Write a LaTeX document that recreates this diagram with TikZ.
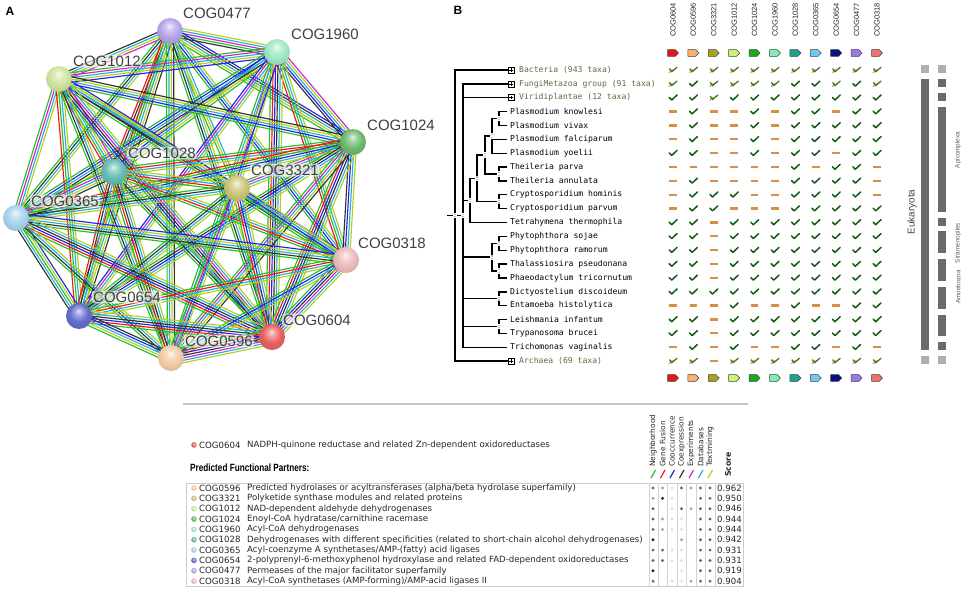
\documentclass[tikz,border=0pt]{standalone}
\usepackage{fontspec}
\setmainfont{Liberation Sans}
\newfontfamily\dvs{DejaVu Sans}
\newfontfamily\dvm{DejaVu Sans Mono}
\usetikzlibrary{calc}
\pgfdeclarelayer{background}
\pgfsetlayers{background,main}
\makeatletter
\pgfdeclareradialshading[tikz@ball]{sphere}{\pgfqpoint{-1bp}{10bp}}{color(0bp)=(tikz@ball!18!white); color(7bp)=(tikz@ball!60!white); color(18bp)=(tikz@ball); color(32bp)=(tikz@ball!88!black); color(45bp)=(tikz@ball!72!black); color(50bp)=(tikz@ball!62!black)}
\makeatother
% evidence colours
\definecolor{eN}{RGB}{40,190,40}
\definecolor{eF}{RGB}{235,25,25}
\definecolor{eC}{RGB}{35,35,235}
\definecolor{eX}{RGB}{50,50,50}
\definecolor{eE}{RGB}{205,35,205}
\definecolor{eD}{RGB}{40,175,215}
\definecolor{eT}{RGB}{185,205,30}
% sphere colours
\definecolor{c0477}{RGB}{180,165,232}
\definecolor{c1960}{RGB}{160,232,198}
\definecolor{c1012}{RGB}{205,228,158}
\definecolor{c1024}{RGB}{110,186,110}
\definecolor{c1028}{RGB}{100,188,178}
\definecolor{c3321}{RGB}{205,196,120}
\definecolor{c0365}{RGB}{168,210,238}
\definecolor{c0318}{RGB}{238,186,186}
\definecolor{c0654}{RGB}{98,108,205}
\definecolor{c0604}{RGB}{232,96,96}
\definecolor{c0596}{RGB}{242,204,166}
% arrow colours
\definecolor{a0604}{RGB}{232,20,28}
\definecolor{a0596}{RGB}{246,180,110}
\definecolor{a3321}{RGB}{168,160,30}
\definecolor{a1012}{RGB}{204,240,122}
\definecolor{a1024}{RGB}{31,168,31}
\definecolor{a1960}{RGB}{127,240,176}
\definecolor{a1028}{RGB}{31,160,140}
\definecolor{a0365}{RGB}{116,198,245}
\definecolor{a0654}{RGB}{10,16,128}
\definecolor{a0477}{RGB}{154,120,232}
\definecolor{a0318}{RGB}{240,112,112}
\definecolor{chkgreen}{RGB}{20,90,20}
\definecolor{pgreen}{RGB}{60,120,40}
\definecolor{ptan}{RGB}{215,180,95}
\definecolor{dorange}{RGB}{215,145,70}
\definecolor{olivetxt}{RGB}{105,100,65}
\definecolor{bardark}{RGB}{107,107,107}
\definecolor{barlight}{RGB}{176,176,176}
\definecolor{vk}{RGB}{30,30,30}
\definecolor{vd}{RGB}{100,100,100}
\definecolor{vg}{RGB}{160,160,160}
\definecolor{vl}{RGB}{222,222,222}
\definecolor{vn}{RGB}{255,255,255}
\newcommand\symF[2]{\draw[chkF] ({#1-3.8},{#2-0.3}) -- ({#1-1.3},{#2+2.3}) -- ({#1+4},{#2-2.7});}
\newcommand\symP[2]{\draw[chkT] ({#1-3.8},{#2+2.6}) -- ({#1-0.6},{#2-0.6});\draw[chkP] ({#1-3.4},{#2-1.2}) -- ({#1-1.3},{#2+1.8}) -- ({#1+4},{#2-2.7});}
\newcommand\symD[2]{\draw[dsh] ({#1-3.8},{#2}) -- ({#1+3.8},{#2});}
\newcommand\cogarrow[3]{\filldraw[fill=#3,draw=black!75,line width=0.5pt,line join=round] ({#1-5.5},{#2-3.3}) -- ({#1+2.3},{#2-3.3}) -- ({#1+5.5},{#2}) -- ({#1+2.3},{#2+3.3}) -- ({#1-5.5},{#2+3.3}) -- cycle;}
\newcommand\nodemark[2]{\fill[white] ({#1-1.6},{#2-2.6}) rectangle ({#1+1.6},{#2+2.6}); \fill[gray!55] ({#1-1.3},{#2-1.9}) rectangle ({#1+1.3},{#2-0.6}); \fill[gray!55] ({#1-1.3},{#2+0.6}) rectangle ({#1+1.3},{#2+1.9});}
\newcommand\grpbox[1]{\draw[line width=0.8pt,fill=white] (508,{#1-3}) rectangle (514,{#1+3}); \draw[line width=0.7pt] (509.4,#1) -- (512.6,#1) (511,{#1-1.6}) -- (511,{#1+1.6});}
\begin{document}
\begin{tikzpicture}[x=1pt,y=-1pt,
  ball/.style={circle,minimum size=26pt,inner sep=0pt,ball color=#1,shading=sphere},
  dotball/.style={ball color=#1,shading=sphere},
  glab/.style={anchor=west,font=\fontsize{15}{15}\selectfont,text=black!75,fill=white,fill opacity=0.6,text opacity=1,inner sep=1pt,rounded corners=2pt},
  edge/.style={line width=1.15pt},
  tree/.style={line width=1.4pt},
  leaf/.style={anchor=west,font=\dvm\fontsize{8.1}{9}\selectfont,inner sep=0pt},
  grp/.style={leaf,text=olivetxt},
  hdr/.style={rotate=90,anchor=west,font=\fontsize{7.5}{8}\selectfont,inner sep=0pt,text=black!85},
  tbl/.style={anchor=west,font=\dvs\fontsize{8.6}{9}\selectfont,inner sep=0pt,text=black!85},
  evh/.style={rotate=90,anchor=west,font=\dvs\fontsize{7.4}{8}\selectfont,inner sep=0pt,text=black!85},
  chkF/.style={draw=chkgreen,line width=1.5pt,line join=round,line cap=round},
  chkP/.style={draw=pgreen,line width=1.3pt,line join=round,line cap=round},
  chkT/.style={draw=ptan,line width=1.4pt,line cap=round},
  dsh/.style={draw=dorange,line width=2.2pt},
  barD/.style={fill=bardark},
  barL/.style={fill=barlight},
  sublab/.style={rotate=90,font=\fontsize{6.3}{7}\selectfont,text=black!65,inner sep=0pt}
]
\useasboundingbox (0,0) rectangle (964,589);

% ---------------- Panel A ----------------
\node[font=\bfseries\fontsize{12}{12}\selectfont] (pA) at (10,11.5) {A};
\node[ball=c0477] (n0477) at (170,31) {};
\node[ball=c1960] (n1960) at (277,52) {};
\node[ball=c1012] (n1012) at (59,79) {};
\node[ball=c1024] (n1024) at (353,142) {};
\node[ball=c1028] (n1028) at (114,172) {};
\node[ball=c3321] (n3321) at (237,188) {};
\node[ball=c0365] (n0365) at (16,218) {};
\node[ball=c0318] (n0318) at (346,260) {};
\node[ball=c0654] (n0654) at (79,316) {};
\node[ball=c0604] (n0604) at (272,337) {};
\node[ball=c0596] (n0596) at (171,358) {};

\begin{pgfonlayer}{background}
\foreach \na/\nb/\lst in {
n0477/n1960/{X,N,E,D,T},
n0477/n1012/{X,D,T,E},
n0477/n1024/{N,T,D,X,C},
n0477/n1028/{F,X,D,T},
n0477/n3321/{N,T,D},
n0477/n0365/{N,X,D,T},
n0477/n0318/{N,C,D,T},
n0477/n0654/{F,N,D,T,X},
n0477/n0604/{N,X,D,T},
n0477/n0596/{N,D,T,X},
n1960/n1012/{N,E,D,T,C},
n1960/n1024/{X,C,D,T,E},
n1960/n1028/{C,D,T,N},
n1960/n3321/{E,D,T},
n1960/n0365/{N,C,D,X,T},
n1960/n0318/{F,N,D,T},
n1960/n0654/{C,E,D,T},
n1960/n0604/{N,F,C,X,D,T},
n1960/n0596/{N,D,T,C},
n1012/n1024/{N,C,D,T,X},
n1012/n1028/{F,N,D,T,E},
n1012/n3321/{X,D,T},
n1012/n0365/{N,E,D,T},
n1012/n0318/{N,X,D,T,C},
n1012/n0654/{F,N,D,T},
n1012/n0604/{N,C,X,E,D,T},
n1012/n0596/{N,X,D,T},
n1024/n1028/{N,F,D,T},
n1024/n3321/{N,E,D,T},
n1024/n0365/{F,N,C,D,T},
n1024/n0318/{X,C,D,T},
n1024/n0654/{N,X,C,D,T},
n1024/n0604/{N,F,C,X,D,T},
n1024/n0596/{N,E,D,T,X},
n1028/n3321/{N,F,D,T},
n1028/n0365/{N,E,D,T,X},
n1028/n0318/{N,F,D,T},
n1028/n0654/{F,X,D,T},
n1028/n0604/{N,X,D,T},
n1028/n0596/{N,F,X,D,T},
n3321/n0365/{N,X,D,T},
n3321/n0318/{N,C,D,T},
n3321/n0654/{N,X,D,T},
n3321/n0604/{N,F,C,D,T},
n3321/n0596/{N,E,D,T},
n0365/n0318/{N,X,D,T,C},
n0365/n0654/{X,D,N,T,C},
n0365/n0604/{N,F,C,X,D,T},
n0365/n0596/{N,X,D,T},
n0318/n0654/{N,F,D,T},
n0318/n0604/{N,C,X,E,D,T},
n0318/n0596/{N,C,D,T},
n0654/n0604/{N,F,C,X,D,T},
n0654/n0596/{N,T,D,C,X},
n0604/n0596/{N,F,C,X,E,D,T}}{
  \foreach \ev [count=\ix] in \lst {\xdef\nn{\ix}}
  \foreach \ev [count=\ix] in \lst {
    \pgfmathsetmacro\off{(\ix-(\nn+1)/2)*2.4}
    \draw[edge,color=e\ev] ($(\na)!\off pt!90:(\nb)$) -- ($(\nb)!\off pt!-90:(\na)$);
  }
}
\end{pgfonlayer}

\node[glab] (l0477) at (182,13) {COG0477};
\node[glab] (l1960) at (290,34) {COG1960};
\node[glab] (l1012) at (72,61) {COG1012};
\node[glab] (l1024) at (366,125) {COG1024};
\node[glab] (l1028) at (127,153) {COG1028};
\node[glab] (l3321) at (250,170) {COG3321};
\node[glab] (l0365) at (30,201) {COG0365};
\node[glab] (l0318) at (357,243) {COG0318};
\node[glab] (l0654) at (92,297) {COG0654};
\node[glab] (l0604) at (282,320) {COG0604};
\node[glab] (l0596) at (184,341) {COG0596};

% ---------------- Panel B ----------------
\node[font=\bfseries\fontsize{12}{12}\selectfont] (pB) at (458,10) {B};
\foreach \nm [count=\ci] in {COG0604,COG0596,COG3321,COG1012,COG1024,COG1960,COG1028,COG0365,COG0654,COG0477,COG0318}{
  \pgfmathsetmacro\xx{673+20.4*(\ci-1)}
  \node[hdr] (h\ci) at (\xx,37) {\nm};
}
\foreach \col [count=\ci] in {a0604,a0596,a3321,a1012,a1024,a1960,a1028,a0365,a0654,a0477,a0318}{
  \pgfmathsetmacro\xx{673+20.4*(\ci-1)}
  \cogarrow{\xx}{53}{\col}
  \cogarrow{\xx}{378}{\col}
}
% grid of symbols
\foreach \row [count=\ri] in {
{P,P,P,P,P,P,P,P,P,P,P},
{P,F,P,P,P,P,F,F,P,F,P},
{F,F,P,F,F,F,F,F,F,F,F},
{D,F,D,D,F,D,F,F,D,F,F},
{D,F,D,D,F,D,F,F,F,F,F},
{D,F,D,D,F,D,F,F,F,F,F},
{F,F,D,D,F,D,F,F,D,F,F},
{D,D,D,D,D,D,F,D,F,F,D},
{D,F,D,D,D,D,F,F,F,F,D},
{D,F,F,F,D,D,F,F,F,F,D},
{D,F,F,D,D,D,F,F,F,F,F},
{F,F,D,F,F,F,F,F,F,F,F},
{F,F,D,F,F,F,F,F,F,F,F},
{F,F,D,F,F,F,F,F,F,F,F},
{F,F,D,F,F,F,F,F,F,F,F},
{F,F,D,F,F,F,F,F,F,F,F},
{F,F,F,F,F,F,F,F,F,F,F},
{D,D,D,F,D,D,F,D,D,F,F},
{F,F,D,F,F,F,F,F,F,F,F},
{F,F,D,F,F,F,F,F,F,F,F},
{D,F,D,F,D,D,F,F,D,F,D},
{P,P,D,P,P,P,P,P,P,P,P}}{
  \pgfmathsetmacro\yy{70+13.857*(\ri-1)}
  \foreach \sy [count=\ci] in \row {
    \pgfmathsetmacro\xx{673+20.4*(\ci-1)}
    \csname sym\sy\endcsname{\xx}{\yy}
  }
}

% tree
\draw[tree] (447,215.5) -- (463,215.5);
\draw[tree] (508,70) -- (455,70) -- (455,361) -- (508,361);
\draw[tree] (508,83.9) -- (463,83.9) -- (463,347.2) -- (507,347.2);
\draw[tree] (463,97.7) -- (508,97.7);
\draw[tree] (463,200.4) -- (470,200.4);
\draw[tree] (477,178.3) -- (470,178.3) -- (470,222.5) -- (507,222.5);
\draw[tree] (485,155) -- (477,155) -- (477,201.6) -- (499,201.6);
\draw[tree] (492,135.9) -- (485,135.9) -- (485,174) -- (499,174);
\draw[tree] (499,118.5) -- (492,118.5) -- (492,153.2) -- (507,153.2);
\draw[tree] (492,139.3) -- (507,139.3);
\draw[tree] (507,111.6) -- (499,111.6) -- (499,125.4) -- (507,125.4);
\draw[tree] (507,167) -- (499,167) -- (499,180.9) -- (507,180.9);
\draw[tree] (507,194.7) -- (499,194.7) -- (499,208.6) -- (507,208.6);
\draw[tree] (463,257.1) -- (492,257.1);
\draw[tree] (499,243.3) -- (492,243.3) -- (492,271) -- (499,271);
\draw[tree] (507,236.3) -- (499,236.3) -- (499,250.2) -- (507,250.2);
\draw[tree] (507,264) -- (499,264) -- (499,277.9) -- (507,277.9);
\draw[tree] (463,298.7) -- (499,298.7);
\draw[tree] (507,291.8) -- (499,291.8) -- (499,305.6) -- (507,305.6);
\draw[tree] (463,326.4) -- (499,326.4);
\draw[tree] (507,319.5) -- (499,319.5) -- (499,333.3) -- (507,333.3);
\foreach \px/\py in {455/215.5,463/215.5,470/200.4,477/178.3,485/155,492/135.9,499/118.5,499/174,499/201.6,492/257.1,499/243.3,499/271,499/298.7,499/326.4}{
  \nodemark{\px}{\py}
}
\grpbox{70} \grpbox{83.9} \grpbox{97.7} \grpbox{361}
\node[grp] (t1) at (519,70) {Bacteria (943 taxa)};
\node[grp] (t2) at (519,83.9) {FungiMetazoa group (91 taxa)};
\node[grp] (t3) at (519,97.7) {Viridiplantae (12 taxa)};
\node[leaf] (t4) at (510,111.6) {Plasmodium knowlesi};
\node[leaf] (t5) at (510,125.4) {Plasmodium vivax};
\node[leaf] (t6) at (510,139.3) {Plasmodium falciparum};
\node[leaf] (t7) at (510,153.2) {Plasmodium yoelii};
\node[leaf] (t8) at (510,167) {Theileria parva};
\node[leaf] (t9) at (510,180.9) {Theileria annulata};
\node[leaf] (t10) at (510,194.7) {Cryptosporidium hominis};
\node[leaf] (t11) at (510,208.6) {Cryptosporidium parvum};
\node[leaf] (t12) at (510,222.5) {Tetrahymena thermophila};
\node[leaf] (t13) at (510,236.3) {Phytophthora sojae};
\node[leaf] (t14) at (510,250.2) {Phytophthora ramorum};
\node[leaf] (t15) at (510,264) {Thalassiosira pseudonana};
\node[leaf] (t16) at (510,277.9) {Phaeodactylum tricornutum};
\node[leaf] (t17) at (510,291.8) {Dictyostelium discoideum};
\node[leaf] (t18) at (510,305.6) {Entamoeba histolytica};
\node[leaf] (t19) at (510,319.5) {Leishmania infantum};
\node[leaf] (t20) at (510,333.3) {Trypanosoma brucei};
\node[leaf] (t21) at (510,347.2) {Trichomonas vaginalis};
\node[grp] (t22) at (519,361) {Archaea (69 taxa)};

% lineage bars
\fill[barL] (921,65) rectangle (929,73);
\fill[barD] (921,78.9) rectangle (929,350.2);
\fill[barL] (921,356) rectangle (929,364);
\fill[barL] (938,65) rectangle (946,73);
\fill[barD] (938,78.9) rectangle (946,86.9);
\fill[barD] (938,92.7) rectangle (946,100.7);
\fill[barD] (938,106.6) rectangle (946,211.6);
\fill[barD] (938,217.5) rectangle (946,225.5);
\fill[barD] (938,231.3) rectangle (946,253.2);
\fill[barD] (938,259) rectangle (946,280.9);
\fill[barD] (938,286.8) rectangle (946,308.6);
\fill[barD] (938,314.5) rectangle (946,336.3);
\fill[barD] (938,342.2) rectangle (946,350.2);
\fill[barL] (938,356) rectangle (946,364);
\node[rotate=90,font=\fontsize{10}{10}\selectfont,text=black!72,inner sep=0pt] (euk) at (912,212) {Eukaryota};
\node[sublab] (api) at (958,150) {Apicomplexa};
\node[sublab] (str) at (958,243) {Stramenopiles};
\node[sublab] (amo) at (958,287) {Amoebozoa};

% ---------------- Bottom table ----------------
\draw[gray!45,line width=1.2pt] (183,404) -- (748,404);
\shade[dotball=c0604] (194,445) circle (2.8);
\node[tbl] (q1) at (199,445) {COG0604};
\node[tbl] (q2) at (247,445) {NADPH-quinone reductase and related Zn-dependent oxidoreductases};
\node[anchor=west,inner sep=0pt,font=\bfseries\fontsize{10.5}{11}\selectfont] (pfp) at (190,468) {\scalebox{0.78}[1]{Predicted Functional Partners:}};
\foreach \nm/\ex [count=\ci] in {Neighborhood/eN,Gene Fusion/eF,Cooccurrence/eC,Coexpression/eX,Experiments/eE,Databases/eD,Textmining/eT}{
  \pgfmathsetmacro\xx{653+9.5*(\ci-1)}
  \node[evh] (ev\ci) at (\xx,467) {\nm};
  \draw[color=\ex,line width=1.2pt] ({\xx-2},478) -- ({\xx+2.5},470);
}
\node[evh,font=\dvs\bfseries\fontsize{7.8}{8}\selectfont] (scr) at (728,477) {Score};
\draw[gray!40,line width=0.8pt] (186,483) rectangle (743,586);
\foreach \vx in {649,658,667.5,677,686.5,696,705.5,715}{
  \draw[gray!35,line width=0.7pt] (\vx,483) -- (\vx,586);
}
\foreach \col [count=\ri] in {c0596,c3321,c1012,c1024,c1960,c1028,c0365,c0654,c0477,c0318}{
  \pgfmathsetmacro\yy{488+10.35*(\ri-1)}
  \shade[dotball=\col] (194,\yy) circle (2.8);
}
\node[tbl] (r1a) at (199,488) {COG0596};
\node[tbl] (r1b) at (247,488) {Predicted hydrolases or acyltransferases (alpha/beta hydrolase superfamily)};
\node[tbl] (r2a) at (199,498.35) {COG3321};
\node[tbl] (r2b) at (247,498.35) {Polyketide synthase modules and related proteins};
\node[tbl] (r3a) at (199,508.7) {COG1012};
\node[tbl] (r3b) at (247,508.7) {NAD-dependent aldehyde dehydrogenases};
\node[tbl] (r4a) at (199,519.05) {COG1024};
\node[tbl] (r4b) at (247,519.05) {Enoyl-CoA hydratase/carnithine racemase};
\node[tbl] (r5a) at (199,529.4) {COG1960};
\node[tbl] (r5b) at (247,529.4) {Acyl-CoA dehydrogenases};
\node[tbl] (r6a) at (199,539.75) {COG1028};
\node[tbl] (r6b) at (247,539.75) {Dehydrogenases with different specificities (related to short-chain alcohol dehydrogenases)};
\node[tbl] (r7a) at (199,550.1) {COG0365};
\node[tbl] (r7b) at (247,550.1) {Acyl-coenzyme A synthetases/AMP-(fatty) acid ligases};
\node[tbl] (r8a) at (199,560.45) {COG0654};
\node[tbl] (r8b) at (247,560.45) {2-polyprenyl-6-methoxyphenol hydroxylase and related FAD-dependent oxidoreductases};
\node[tbl] (r9a) at (199,570.8) {COG0477};
\node[tbl] (r9b) at (247,570.8) {Permeases of the major facilitator superfamily};
\node[tbl] (r10a) at (199,581.15) {COG0318};
\node[tbl] (r10b) at (247,581.15) {Acyl-CoA synthetases (AMP-forming)/AMP-acid ligases II};
\foreach \sc [count=\ri] in {0.962,0.950,0.946,0.944,0.944,0.942,0.931,0.931,0.919,0.904}{
  \pgfmathsetmacro\yy{488+10.35*(\ri-1)}
  \node[tbl] (s\ri) at (717,\yy) {\sc};
}
\foreach \row [count=\ri] in {
{d,g,l,d,g,d,d},
{g,k,l,n,n,d,d},
{d,n,l,d,g,d,d},
{d,g,l,l,n,d,d},
{d,g,l,l,n,d,d},
{k,n,n,g,n,d,d},
{d,d,l,l,n,d,d},
{d,d,l,l,n,d,d},
{k,n,n,l,n,d,d},
{d,n,l,l,g,d,d}}{
  \pgfmathsetmacro\yy{488+10.35*(\ri-1)}
  \foreach \sy [count=\ci] in \row {
    \pgfmathsetmacro\xx{653+9.5*(\ci-1)}
    \fill[color=v\sy] (\xx,\yy) circle (1.6);
  }
}
\end{tikzpicture}
\end{document}
